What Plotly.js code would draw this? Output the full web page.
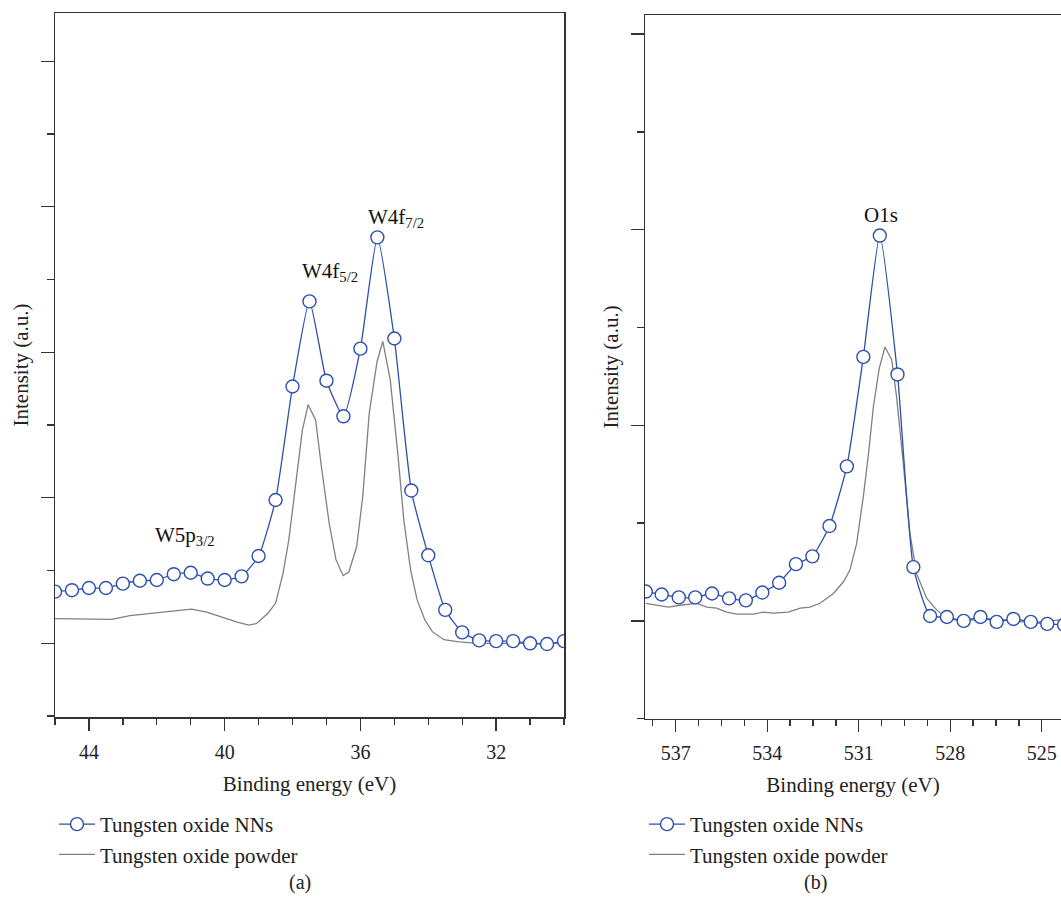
<!DOCTYPE html>
<html>
<head>
<meta charset="utf-8">
<script src="https://cdn.plot.ly/plotly-3.0.1.min.js"></script>
<style>html,body{margin:0;padding:0;background:#fff;overflow:hidden}</style>
</head>
<body>
<div id="chart" style="width:1061px;height:904px"></div>
<script>
// ---------- Panel (a): W4f region ----------
const nnsX_a = [45,44.5,44,43.5,43,42.5,42,41.5,41,40.5,40,39.5,39,38.5,38,37.5,37,36.5,36,35.5,35,34.5,34,33.5,33,32.5,32,31.5,31,30.5,30];
const nnsY_a = [0.71,0.73,0.76,0.76,0.82,0.86,0.87,0.95,0.97,0.89,0.87,0.92,1.20,1.97,3.53,4.70,3.61,3.12,4.05,5.58,4.19,2.10,1.21,0.46,0.15,0.04,0.03,0.03,0.00,-0.01,0.03];
const powX_a = [45.00,43.33,42.79,42.00,41.55,40.98,40.53,40.08,39.63,39.29,39.07,38.73,38.50,38.28,38.11,37.94,37.71,37.54,37.32,37.15,36.92,36.72,36.51,36.34,36.11,35.93,35.74,35.51,35.34,35.12,34.89,34.72,34.52,34.33,34.10,33.88,33.54,33.09,32.52,30.00];
const powY_a = [0.34,0.33,0.38,0.42,0.45,0.47,0.43,0.36,0.29,0.25,0.27,0.41,0.55,0.96,1.42,2.06,2.93,3.28,3.07,2.43,1.65,1.15,0.93,0.98,1.33,2.02,3.16,3.87,4.15,3.62,2.57,1.69,1.01,0.60,0.32,0.16,0.05,0.02,0.00,0.00];

// ---------- Panel (b): O1s region ----------
const nnsX_b = [537.98,537.46,536.90,536.36,535.81,535.25,534.70,534.16,533.61,533.06,532.52,531.96,531.39,530.85,530.31,529.73,529.21,528.66,528.11,527.56,527.01,526.48,525.93,525.36,524.82,524.27];
const nnsY_b = [0.30,0.27,0.24,0.24,0.28,0.23,0.21,0.29,0.39,0.58,0.66,0.97,1.58,2.70,3.94,2.52,0.55,0.05,0.04,0.00,0.04,-0.01,0.02,-0.01,-0.03,-0.04];
const powX_b = [537.98,537.62,537.24,536.86,536.31,535.98,535.66,535.33,535.00,534.45,534.13,533.80,533.31,532.92,532.60,532.27,531.83,531.50,531.29,531.07,530.85,530.68,530.52,530.33,530.14,529.92,529.76,529.54,529.32,529.10,528.77,528.44,528.12,527.68,527.24,526.69,526.15,525.60,525.06,524.37];
const powY_b = [0.18,0.16,0.14,0.16,0.18,0.14,0.13,0.09,0.07,0.07,0.09,0.08,0.09,0.13,0.14,0.18,0.28,0.40,0.52,0.79,1.27,1.71,2.19,2.58,2.80,2.67,2.29,1.61,0.89,0.48,0.23,0.11,0.03,0.00,0.01,0.02,0.01,-0.01,-0.01,0.01];

const seriesNames = ['Tungsten oxide NNs', 'Tungsten oxide powder'];
const peakLabels_a = [
  {text: 'W4f<sub>7/2</sub>', x: 34.95, y: 5.85},
  {text: 'W4f<sub>5/2</sub>', x: 36.90, y: 5.10},
  {text: 'W5p<sub>3/2</sub>', x: 41.17, y: 1.47}
];
const peakLabels_b = [{text: 'O1s', x: 530.27, y: 4.15}];

const FONT = 'Liberation Serif, Times New Roman, serif';
const BLUE = '#2d4fae';
const GRAY = '#808080';
const AX = '#333333';

function nnsTrace(x, y, xa, ya, lg) {
  return {x: x, y: y, xaxis: xa, yaxis: ya, legend: lg, name: seriesNames[0],
    type: 'scatter', mode: 'lines+markers',
    line: {color: BLUE, width: 1.3, shape: 'spline', smoothing: 0.5},
    marker: {symbol: 'circle', size: 13, color: '#ffffff', line: {color: BLUE, width: 1.4}}};
}
function powTrace(x, y, xa, ya, lg) {
  return {x: x, y: y, xaxis: xa, yaxis: ya, legend: lg, name: seriesNames[1],
    type: 'scatter', mode: 'lines', line: {color: GRAY, width: 1.3}};
}

const data = [
  powTrace(powX_a, powY_a, 'x', 'y', 'legend'),
  nnsTrace(nnsX_a, nnsY_a, 'x', 'y', 'legend'),
  powTrace(powX_b, powY_b, 'x2', 'y2', 'legend2'),
  nnsTrace(nnsX_b, nnsY_b, 'x2', 'y2', 'legend2')
];

const W = 1061, H = 904;
function xAxis(dom, rng, t0, dt, mdt, mirror) {
  return {domain: dom, range: rng, tickmode: 'linear', tick0: t0, dtick: dt,
    ticks: 'outside', ticklen: 12, tickwidth: 1.3, tickcolor: AX, ticklabelstandoff: 4,
    minor: {tick0: t0, dtick: mdt, ticks: 'outside', ticklen: 6, tickwidth: 1.3, tickcolor: AX, showgrid: false},
    showline: true, linecolor: AX, linewidth: 1.5, mirror: mirror,
    showgrid: false, zeroline: false,
    tickfont: {family: FONT, size: 20, color: '#222'},
    title: {text: 'Binding energy (eV)', font: {family: FONT, size: 21, color: '#222'}}};
}
function yAxis(dom, rng, mirror, anchor) {
  return {domain: dom, range: rng, anchor: anchor, tickmode: 'linear', tick0: 0, dtick: 2,
    ticks: 'outside', ticklen: 13, tickwidth: 1.3, tickcolor: AX, showticklabels: false,
    minor: {tick0: 0, dtick: 1, ticks: 'outside', ticklen: 6.5, tickwidth: 1.3, tickcolor: AX, showgrid: false},
    showline: true, linecolor: AX, linewidth: 1.5, mirror: mirror,
    showgrid: false, zeroline: false,
    title: {text: 'Intensity (a.u.)', standoff: 6, font: {family: FONT, size: 21, color: '#222'}}};
}

const annotations = [];
peakLabels_a.forEach(p => annotations.push({text: p.text, x: p.x, y: p.y, xref: 'x', yref: 'y',
  showarrow: false, font: {family: FONT, size: 21, color: '#111'}}));
peakLabels_b.forEach(p => annotations.push({text: p.text, x: p.x, y: p.y, xref: 'x2', yref: 'y2',
  showarrow: false, font: {family: FONT, size: 21, color: '#111'}}));
annotations.push({text: '(a)', x: 287 / W, y: 1 - 896 / H, xref: 'paper', yref: 'paper',
  showarrow: false, font: {family: FONT, size: 20, color: '#222'}});
annotations.push({text: '(b)', x: 829 / W, y: 1 - 896 / H, xref: 'paper', yref: 'paper',
  showarrow: false, font: {family: FONT, size: 20, color: '#222'}});

const legendStyle = (x) => ({x: x, y: 1 - 804 / H, xanchor: 'left', yanchor: 'top',
  bgcolor: 'rgba(0,0,0,0)', borderwidth: 0, font: {family: FONT, size: 21, color: '#222'},
  itemwidth: 36, traceorder: 'reversed', itemclick: false});

const layout = {
  width: W, height: H,
  margin: {l: 0, r: 0, t: 0, b: 0, autoexpand: false},
  paper_bgcolor: '#fff', plot_bgcolor: '#fff',
  showlegend: true,
  font: {family: FONT, color: '#222'},
  xaxis: xAxis([55 / W, 564 / W], [45, 30], 32, 4, 1, true),
  yaxis: yAxis([1 - 717 / H, 1 - 13 / H], [-1.013, 8.664], true, 'x'),
  xaxis2: Object.assign(xAxis([645 / W, 1], [538.007, 524.37], 525, 3, 0.75, true), {anchor: 'y2'}),
  yaxis2: yAxis([1 - 718.7 / H, 1 - 15 / H], [-1.0, 6.195], false, 'x2'),
  legend: legendStyle(54 / W),
  legend2: legendStyle(644 / W),
  annotations: annotations
};
layout.xaxis.anchor = 'y';

Plotly.newPlot('chart', data, layout, {displayModeBar: false, staticPlot: true});
</script>
</body>
</html>
